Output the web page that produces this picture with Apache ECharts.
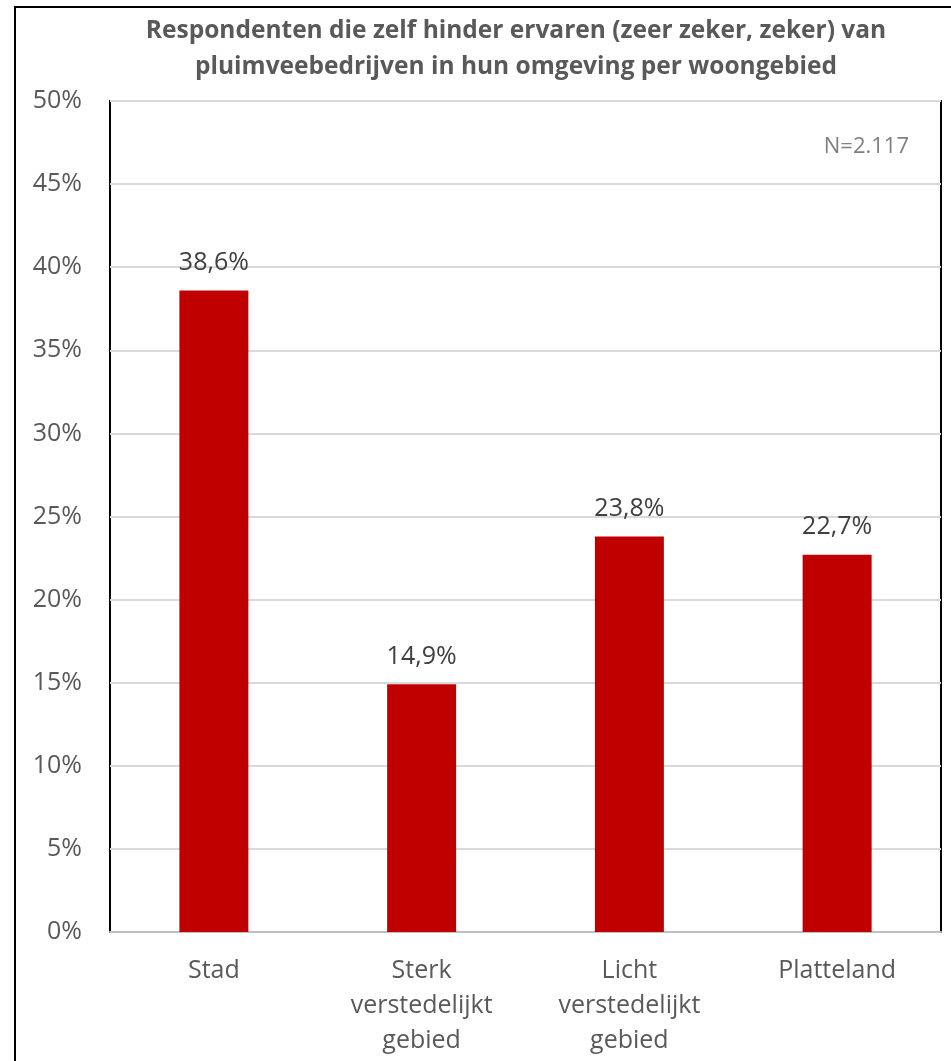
<!DOCTYPE html>
<html><head><meta charset="utf-8">
<script src="https://cdn.jsdelivr.net/npm/echarts@6/dist/echarts.min.js"></script>
<style>html,body{margin:0;padding:0;background:#fff}#c{width:951px;height:1061px}</style>
</head><body><div id="c"></div>
<script>
const categories = ['Stad', 'Sterk\nverstedelijkt\ngebied', 'Licht\nverstedelijkt\ngebied', 'Platteland'];
const values = [38.6, 14.9, 23.8, 22.7];
const titleLines = ['Respondenten die zelf hinder ervaren (zeer zeker, zeker) van', 'pluimveebedrijven in hun omgeving per woongebied'];
const noteText = 'N=2.117';
const FONT = '"Open Sans", "Noto Sans", sans-serif';

const chart = echarts.init(document.getElementById('c'), null, {renderer: 'canvas'});
chart.setOption({
  animation: false,
  textStyle: {fontFamily: FONT},
  grid: {left: 110, top: 101, right: 10, bottom: 129, show: true, borderColor: '#000', borderWidth: 2},
  xAxis: {
    type: 'category', data: categories,
    axisLine: {show: true, lineStyle: {color: '#bfbfbf', width: 2}},
    axisTick: {show: false},
    axisLabel: {fontSize: 25, color: '#595959', lineHeight: 35, margin: 21, fontFamily: FONT, interval: 0}
  },
  yAxis: {
    type: 'value', min: 0, max: 50, interval: 5,
    axisLine: {show: false}, axisTick: {show: false},
    splitLine: {lineStyle: {color: '#d9d9d9', width: 2}},
    axisLabel: {formatter: '{value}%', fontSize: 25, color: '#595959', margin: 28, fontFamily: FONT}
  },
  series: [{
    type: 'bar', data: values, barWidth: 69,
    itemStyle: {color: '#c00000'},
    label: {show: true, position: 'top', distance: 15, fontSize: 25, color: '#404040', fontFamily: FONT,
      formatter: p => p.value.toFixed(1).replace('.', ',') + '%'}
  }],
  graphic: [
    {type: 'rect', shape: {x: 15, y: 7, width: 1000, height: 1200}, style: {fill: 'none', stroke: '#000', lineWidth: 2}, silent: true},
    {type: 'text', x: 516, y: 49, style: {text: titleLines.join('\n'), textAlign: 'center', textVerticalAlign: 'middle', font: 'bold 24.5px ' + FONT, fill: '#595959', lineHeight: 36}},
    {type: 'text', x: 909, y: 147, style: {text: noteText, textAlign: 'right', textVerticalAlign: 'middle', font: '22px ' + FONT, fill: '#808080'}}
  ]
});
</script></body></html>
